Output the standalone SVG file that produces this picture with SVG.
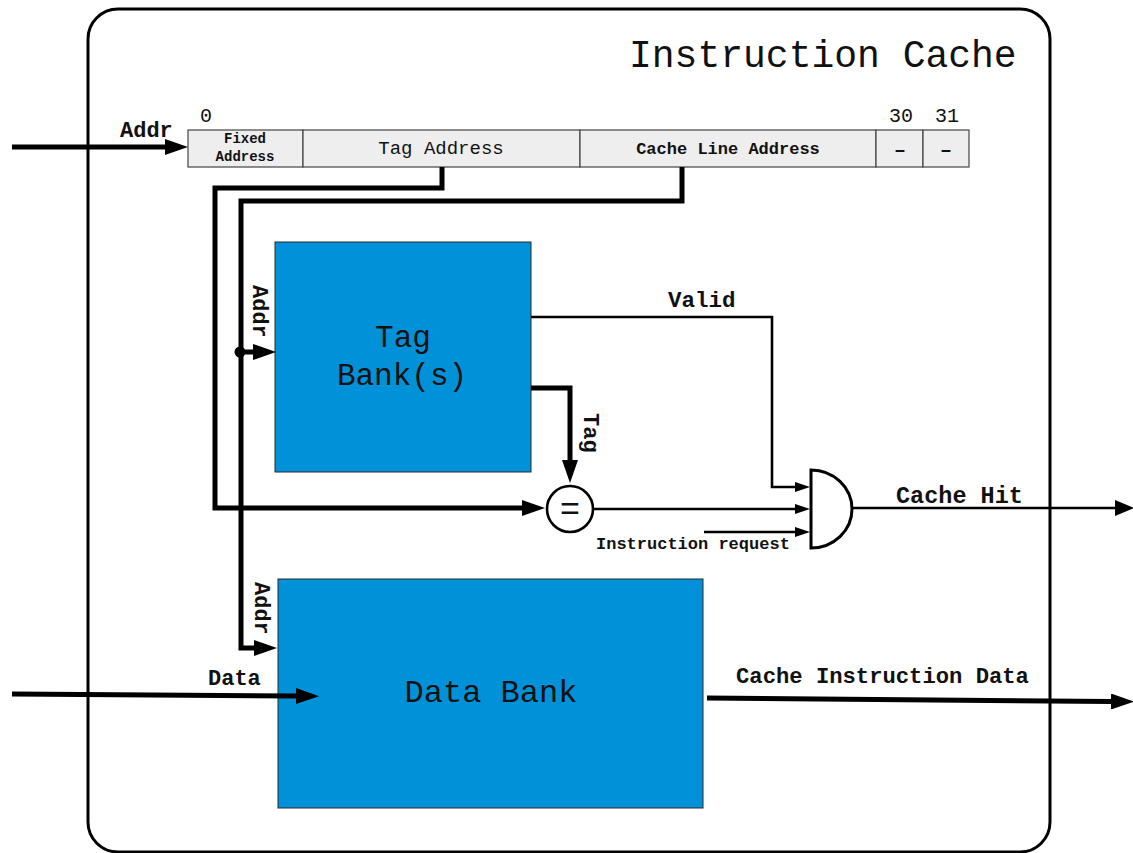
<svg xmlns="http://www.w3.org/2000/svg" width="1133" height="853" viewBox="0 0 1133 853">
  <style>
    .mono { font-family: "Liberation Mono", "Courier New", monospace; fill: #111; }
    .b { font-weight: bold; }
    .reg { fill: #eeeeee; stroke: #444; stroke-width: 1.2; }
    .bank { fill: #0091d8; stroke: #2a2a2a; stroke-width: 1; }
    .bus { fill: none; stroke: #000; stroke-width: 5; stroke-linejoin: miter; stroke-linecap: butt; }
    .wire { fill: none; stroke: #000; stroke-width: 2.6; stroke-linejoin: miter; }
  </style>
  <defs>
    <marker id="headBig" markerUnits="userSpaceOnUse" markerWidth="23" markerHeight="16" refX="0" refY="8" orient="auto">
      <path d="M0,0 L23,8 L0,16 Z" fill="#000"/>
    </marker>
    <marker id="headSmall" markerUnits="userSpaceOnUse" markerWidth="15" markerHeight="10" refX="0" refY="5" orient="auto">
      <path d="M0,0 L15,5 L0,10 Z" fill="#000"/>
    </marker>
    <marker id="headMid" markerUnits="userSpaceOnUse" markerWidth="19" markerHeight="16" refX="0" refY="8" orient="auto">
      <path d="M0,0 L19,8 L0,16 Z" fill="#000"/>
    </marker>
  </defs>

  <rect width="1133" height="853" fill="#fff"/>

  <!-- enclosing cache block -->
  <g id="cache-frame">
    <rect x="88" y="9" width="962" height="843" rx="30" ry="30" fill="none" stroke="#000" stroke-width="3"/>
    <text class="mono" x="629" y="67" font-size="38">Instruction Cache</text>
  </g>

  <!-- address register fields -->
  <g id="address-register">
    <rect class="reg" x="188" y="130" width="115" height="37"/>
    <rect class="reg" x="303" y="130" width="277" height="37"/>
    <rect class="reg" x="580" y="130" width="296" height="37"/>
    <rect class="reg" x="876" y="130" width="47" height="37"/>
    <rect class="reg" x="923" y="130" width="46" height="37"/>
    <text class="mono b" x="245" y="143" font-size="14" text-anchor="middle">Fixed</text>
    <text class="mono b" x="245" y="161" font-size="14" text-anchor="middle">Address</text>
    <text class="mono" x="441" y="154" font-size="19" text-anchor="middle">Tag Address</text>
    <text class="mono b" x="728" y="154" font-size="17" text-anchor="middle">Cache Line Address</text>
    <text class="mono b" x="900" y="156" font-size="20" text-anchor="middle">–</text>
    <text class="mono b" x="946" y="156" font-size="20" text-anchor="middle">–</text>
    <text class="mono" x="206" y="122" font-size="20" text-anchor="middle">0</text>
    <text class="mono" x="901" y="122" font-size="20" text-anchor="middle">30</text>
    <text class="mono" x="947" y="122" font-size="20" text-anchor="middle">31</text>
  </g>

  <!-- tag bank -->
  <g id="tag-bank">
    <rect class="bank" x="275" y="242" width="256" height="230"/>
    <text class="mono" x="403" y="347" font-size="31" text-anchor="middle">Tag</text>
    <text class="mono" x="402" y="385" font-size="31" text-anchor="middle">Bank(s)</text>
  </g>

  <!-- data bank -->
  <g id="data-bank">
    <rect class="bank" x="278" y="579" width="425" height="229"/>
    <text class="mono" x="491" y="702" font-size="32" text-anchor="middle">Data Bank</text>
  </g>

  <!-- tag comparator -->
  <g id="comparator">
    <circle cx="570" cy="509" r="23" fill="#fff" stroke="#000" stroke-width="2.6"/>
    <text class="mono" x="570" y="520" font-size="34" text-anchor="middle">=</text>
  </g>

  <!-- hit AND gate -->
  <g id="and-gate">
    <path d="M811,470 A41,39 0 0 1 811,548 Z" fill="#fff" stroke="#000" stroke-width="3"/>
  </g>

  <!-- signal routing -->
  <g id="connectors">
    <!-- external address in -->
    <path class="bus" d="M12,147 H165" marker-end="url(#headBig)"/>
    <!-- tag field to comparator -->
    <path class="bus" d="M442,167 V188 H215 V508 H522" marker-end="url(#headBig)"/>
    <!-- cache line field to data bank address -->
    <path class="bus" d="M682,167 V201 H241 V648 H254" marker-end="url(#headBig)"/>
    <!-- tap into tag bank address -->
    <circle cx="240" cy="352" r="5.5" fill="#000"/>
    <path class="bus" d="M240,352 H253" marker-end="url(#headBig)"/>
    <!-- stored tag to comparator -->
    <path class="bus" d="M531,388 H570 V460" marker-end="url(#headBig)"/>
    <!-- valid bit -->
    <path class="wire" d="M531,317 H772 V487 H795" marker-end="url(#headSmall)"/>
    <!-- comparator result -->
    <path class="wire" d="M593,509 H795" marker-end="url(#headSmall)"/>
    <!-- instruction request -->
    <path class="wire" d="M704,532 H795" marker-end="url(#headSmall)"/>
    <!-- hit output -->
    <path class="wire" d="M852,508 H1115" stroke-width="3" marker-end="url(#headMid)"/>
    <!-- data in -->
    <path class="bus" d="M12,694 L296,696" marker-end="url(#headBig)"/>
    <!-- data out -->
    <path class="bus" d="M707,698 L1111,701.5" marker-end="url(#headBig)"/>
  </g>

  <!-- signal labels -->
  <g id="labels">
    <text class="mono b" x="120" y="137" font-size="22">Addr</text>
    <text class="mono b" x="668" y="307" font-size="22.5">Valid</text>
    <text class="mono b" x="896" y="503" font-size="23.5">Cache Hit</text>
    <text class="mono b" x="596" y="549" font-size="17">Instruction request</text>
    <text class="mono b" x="208" y="685" font-size="22">Data</text>
    <text class="mono b" x="736" y="683" font-size="22.2">Cache Instruction Data</text>
    <text class="mono b" font-size="22" transform="translate(253,285) rotate(90)">Addr</text>
    <text class="mono b" font-size="22" transform="translate(255,582) rotate(90)">Addr</text>
    <text class="mono b" font-size="22" transform="translate(584,413) rotate(90)">Tag</text>
  </g>
</svg>
